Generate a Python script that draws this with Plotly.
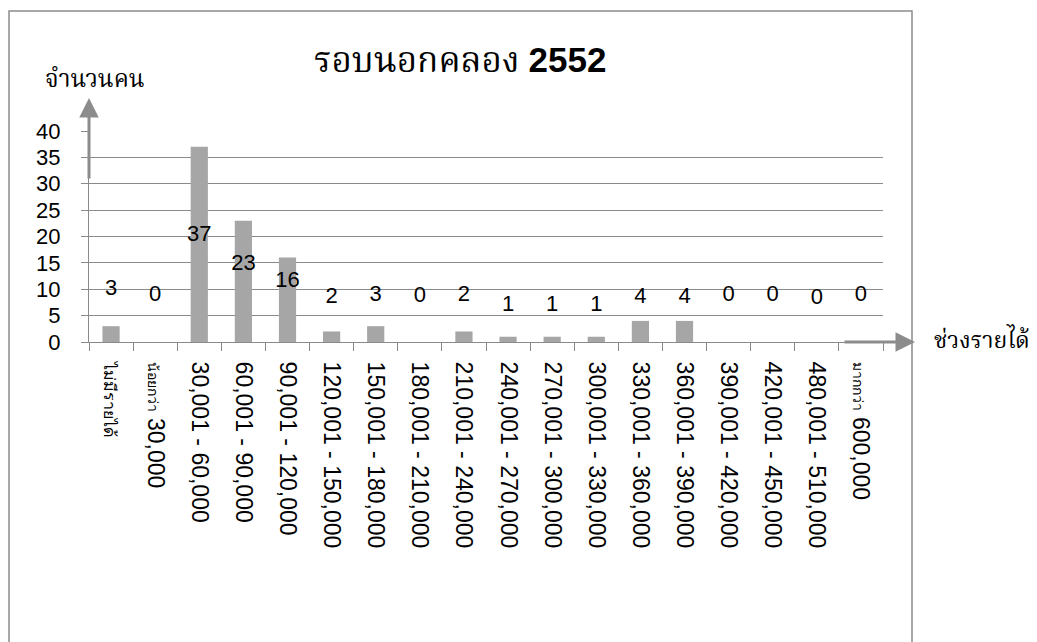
import plotly.graph_objects as go

# ---- data ----
categories = [
    "ไม่มีรายได้", "น้อยกว่า 30,000", "30,001 - 60,000", "60,001 - 90,000",
    "90,001 - 120,000", "120,001 - 150,000", "150,001 - 180,000", "180,001 - 210,000",
    "210,001 - 240,000", "240,001 - 270,000", "270,001 - 300,000", "300,001 - 330,000",
    "330,001 - 360,000", "360,001 - 390,000", "390,001 - 420,000", "420,001 - 450,000",
    "480,001 - 510,000", "มากกว่า 600,000",
]
counts = [3, 0, 37, 23, 16, 2, 3, 0, 2, 1, 1, 1, 4, 4, 0, 0, 0, 0]
tick_labels = [
    '<span style="font-size:16px">ไม่มีรายได้</span>',
    '<span style="font-size:14px">น้อยกว่า</span> 30,000',
    "30,001 - 60,000", "60,001 - 90,000",
    "90,001 - 120,000", "120,001 - 150,000", "150,001 - 180,000", "180,001 - 210,000",
    "210,001 - 240,000", "240,001 - 270,000", "270,001 - 300,000", "300,001 - 330,000",
    "330,001 - 360,000", "360,001 - 390,000", "390,001 - 420,000", "420,001 - 450,000",
    "480,001 - 510,000",
    '<span style="font-size:14px">มากกว่า</span> 600,000',
]
y_ticks = [0, 5, 10, 15, 20, 25, 30, 35, 40]
title_text = 'รอบนอกคลอง <span style="font-family:Liberation Sans, sans-serif"><b>2552</b></span>'
y_title = "จำนวนคน"
x_title = "ช่วงรายได้"

# label placement (as positioned in the original chart, in axis units)
label_y = [9.9, 8.9, 20.1, 14.6, 11.4, 8.5, 8.9, 8.7, 8.9, 7.0, 7.0, 7.0, 8.5, 8.5, 8.9, 8.9, 8.2, 8.9]

GRID = "#8a8a8a"
BAR = "#a6a6a6"
FONT = "Liberation Sans, Noto Sans, sans-serif"
THAI = "Noto Serif Thai, Noto Sans Thai, Tlwg Typo, serif"

fig = go.Figure()
fig.add_trace(go.Bar(x=categories, y=counts, marker=dict(color=BAR, line=dict(width=0)),
                     hoverinfo="x+y"))
fig.add_trace(go.Scatter(x=categories, y=label_y, mode="text", text=[str(v) for v in counts],
                         textfont=dict(size=22, color="black", family=FONT),
                         textposition="middle center", hoverinfo="skip"))

W, H = 1037, 642
L, R, T, B = 89, 883, 131, 342
pw, ph = R - L, B - T

def px(x):
    return (x - L) / pw

def py(y):
    return (B - y) / ph

fig.update_layout(
    width=W, height=H,
    margin=dict(l=L, r=W - R, t=T, b=H - B, pad=0),
    paper_bgcolor="white", plot_bgcolor="white",
    showlegend=False, bargap=0.61,
    font=dict(family=FONT, size=22, color="black"),
    xaxis=dict(
        type="category", tickmode="array", tickvals=categories, ticktext=tick_labels,
        tickangle=90, tickfont=dict(size=23, family=FONT, color="black"),
        showgrid=False, showline=True, linecolor=GRID, linewidth=1,
        ticks="outside", ticklen=8, tickcolor=GRID, tickson="boundaries",
        ticklabelstandoff=14, zeroline=False,
        range=[-0.5, len(categories) - 0.5],
    ),
    yaxis=dict(
        range=[0, 40], tickmode="array", tickvals=y_ticks,
        tickfont=dict(size=22, family=FONT, color="black"),
        showgrid=True, gridcolor=GRID, gridwidth=1,
        showline=True, linecolor=GRID, linewidth=1,
        ticks="outside", ticklen=7, tickcolor=GRID, ticklabelstandoff=16,
        zeroline=False,
    ),
    shapes=[
        dict(type="rect", xref="paper", yref="paper",
             x0=px(9), x1=px(912), y0=py(11), y1=py(660),
             line=dict(color="#8c8c8c", width=1.5), fillcolor="rgba(0,0,0,0)", layer="below"),
    ],
    annotations=[
        dict(text=title_text, xref="paper", yref="paper", x=px(460), y=py(63),
             showarrow=False, font=dict(size=35, family=THAI, color="black"),
             xanchor="center", yanchor="middle"),
        dict(text=y_title, xref="paper", yref="paper", x=px(95), y=py(80),
             showarrow=False, font=dict(size=24, family=THAI, color="black"),
             xanchor="center", yanchor="middle"),
        dict(text=x_title, xref="paper", yref="paper", x=px(1032), y=py(342),
             showarrow=False, font=dict(size=23, family=THAI, color="black"),
             xanchor="right", yanchor="middle"),
        # y-axis arrow
        dict(text="", xref="paper", yref="paper", x=px(89), y=py(98),
             showarrow=True, ax=0, ay=82, arrowhead=2, arrowsize=1.3, arrowwidth=3,
             arrowcolor="#8c8c8c"),
        # x-axis arrow
        dict(text="", xref="paper", yref="paper", x=px(915), y=py(342),
             showarrow=True, ax=-72, ay=0, arrowhead=2, arrowsize=1.3, arrowwidth=3,
             arrowcolor="#8c8c8c"),
    ],
)

fig.write_html("out.html", config={"displayModeBar": False},
               post_script="document.body.style.margin='0';document.body.style.padding='0';")
